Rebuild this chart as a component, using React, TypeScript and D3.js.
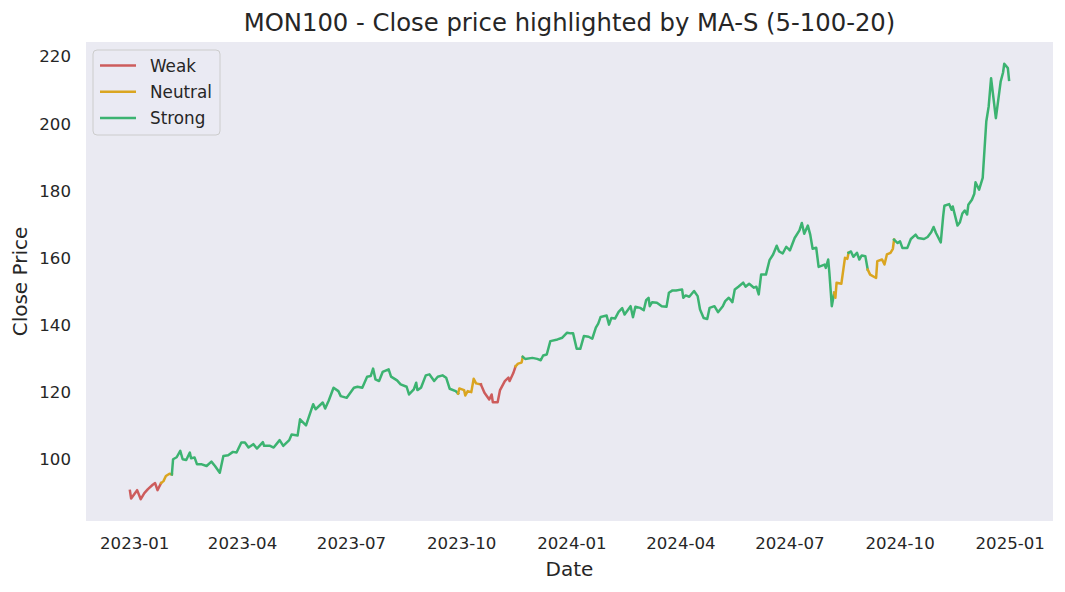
import { useEffect, useRef } from "react";
import * as d3 from "d3";

// Close prices
const dates = [
  "2022-12-28", "2022-12-29", "2023-01-03", "2023-01-06", "2023-01-09", "2023-01-12", "2023-01-16", "2023-01-18", "2023-01-20", "2023-01-23",
  "2023-01-25", "2023-01-27", "2023-01-30", "2023-02-01", "2023-02-02", "2023-02-05", "2023-02-08", "2023-02-10", "2023-02-13", "2023-02-16",
  "2023-02-17", "2023-02-20", "2023-02-22", "2023-02-26", "2023-03-02", "2023-03-06", "2023-03-09", "2023-03-13", "2023-03-16", "2023-03-20",
  "2023-03-24", "2023-03-27", "2023-03-31", "2023-04-03", "2023-04-06", "2023-04-10", "2023-04-13", "2023-04-18", "2023-04-19", "2023-04-24",
  "2023-04-27", "2023-05-02", "2023-05-05", "2023-05-10", "2023-05-12", "2023-05-17", "2023-05-19", "2023-05-24", "2023-05-30", "2023-06-01",
  "2023-06-07", "2023-06-09", "2023-06-12", "2023-06-16", "2023-06-20", "2023-06-22", "2023-06-27", "2023-07-03", "2023-07-06", "2023-07-10",
  "2023-07-14", "2023-07-17", "2023-07-19", "2023-07-21", "2023-07-24", "2023-07-27", "2023-08-01", "2023-08-03", "2023-08-08", "2023-08-11",
  "2023-08-16", "2023-08-18", "2023-08-22", "2023-08-24", "2023-08-25", "2023-08-28", "2023-09-01", "2023-09-04", "2023-09-08", "2023-09-11",
  "2023-09-15", "2023-09-18", "2023-09-21", "2023-09-26", "2023-09-28", "2023-09-29", "2023-10-03", "2023-10-04", "2023-10-06", "2023-10-09",
  "2023-10-11", "2023-10-13", "2023-10-17", "2023-10-20", "2023-10-24", "2023-10-26", "2023-10-27", "2023-10-31", "2023-11-02", "2023-11-06",
  "2023-11-09", "2023-11-10", "2023-11-13", "2023-11-15", "2023-11-17", "2023-11-20", "2023-11-21", "2023-11-23", "2023-11-29", "2023-12-03",
  "2023-12-06", "2023-12-08", "2023-12-11", "2023-12-14", "2023-12-20", "2023-12-24", "2023-12-28", "2023-12-31", "2024-01-02", "2024-01-05",
  "2024-01-08", "2024-01-11", "2024-01-15", "2024-01-18", "2024-01-21", "2024-01-23", "2024-01-25", "2024-01-30", "2024-02-01", "2024-02-03",
  "2024-02-06", "2024-02-09", "2024-02-12", "2024-02-14", "2024-02-19", "2024-02-21", "2024-02-23", "2024-02-27", "2024-03-01", "2024-03-03",
  "2024-03-05", "2024-03-06", "2024-03-08", "2024-03-12", "2024-03-16", "2024-03-20", "2024-03-22", "2024-03-25", "2024-03-28", "2024-04-02",
  "2024-04-03", "2024-04-05", "2024-04-08", "2024-04-12", "2024-04-15", "2024-04-17", "2024-04-20", "2024-04-23", "2024-04-25", "2024-04-29",
  "2024-05-02", "2024-05-06", "2024-05-08", "2024-05-11", "2024-05-14", "2024-05-16", "2024-05-19", "2024-05-23", "2024-05-25", "2024-05-28",
  "2024-06-01", "2024-06-03", "2024-06-05", "2024-06-07", "2024-06-11", "2024-06-14", "2024-06-17", "2024-06-20", "2024-06-22", "2024-06-25",
  "2024-06-28", "2024-07-01", "2024-07-05", "2024-07-09", "2024-07-11", "2024-07-13", "2024-07-16", "2024-07-18", "2024-07-20", "2024-07-23",
  "2024-07-25", "2024-07-30", "2024-07-31", "2024-08-02", "2024-08-03", "2024-08-05", "2024-08-07", "2024-08-08", "2024-08-09", "2024-08-13",
  "2024-08-16", "2024-08-18", "2024-08-19", "2024-08-21", "2024-08-23", "2024-08-26", "2024-08-28", "2024-08-30", "2024-09-02", "2024-09-04",
  "2024-09-06", "2024-09-11", "2024-09-12", "2024-09-16", "2024-09-18", "2024-09-20", "2024-09-23", "2024-09-25", "2024-09-26", "2024-09-29",
  "2024-10-01", "2024-10-03", "2024-10-07", "2024-10-10", "2024-10-14", "2024-10-16", "2024-10-21", "2024-10-24", "2024-10-27", "2024-10-29",
  "2024-10-31", "2024-11-04", "2024-11-06", "2024-11-07", "2024-11-11", "2024-11-13", "2024-11-14", "2024-11-18", "2024-11-20", "2024-11-22",
  "2024-11-24", "2024-11-26", "2024-11-27", "2024-11-30", "2024-12-02", "2024-12-03", "2024-12-06", "2024-12-09", "2024-12-12", "2024-12-14",
  "2024-12-16", "2024-12-20", "2024-12-24", "2024-12-26", "2024-12-27", "2024-12-30", "2024-12-31",
];

const closes = [
  90.6, 88.3, 90.8, 88.1, 89.9, 91.1, 92.4, 92.9, 90.8, 92.9,
  93.5, 95.0, 95.7, 95.5, 100.0, 100.6, 102.5, 100.0, 99.8, 102.0,
  100.3, 100.5, 98.5, 98.5, 98.0, 99.3, 98.0, 96.0, 101.0, 101.2,
  102.2, 102.0, 105.0, 105.0, 103.5, 104.5, 103.2, 105.1, 104.0, 104.0,
  103.5, 105.7, 104.0, 105.7, 107.4, 107.1, 111.9, 110.1, 116.4, 114.9,
  116.9, 115.1, 117.5, 121.3, 120.3, 118.8, 118.3, 121.3, 121.6, 121.3,
  124.6, 124.8, 127.0, 123.8, 123.3, 126.0, 126.8, 124.6, 123.5, 122.3,
  121.6, 119.3, 120.8, 122.8, 120.6, 121.3, 125.0, 125.3, 123.3, 124.6,
  125.0, 124.3, 121.0, 120.3, 119.6, 121.1, 120.6, 119.0, 120.3, 120.0,
  124.0, 122.6, 122.3, 119.8, 117.8, 119.3, 117.0, 117.0, 120.6, 123.3,
  124.3, 123.3, 125.6, 127.7, 128.5, 128.8, 130.5, 129.9, 130.2, 129.9,
  129.5, 130.9, 131.2, 135.2, 135.7, 136.2, 137.7, 137.5, 137.5, 132.9,
  132.9, 136.7, 136.5, 135.9, 139.2, 140.4, 142.4, 142.8, 140.1, 142.1,
  141.9, 143.9, 145.0, 143.1, 145.6, 142.3, 145.4, 145.1, 144.4, 147.4,
  148.1, 145.6, 146.8, 146.6, 145.6, 145.4, 149.6, 150.3, 150.3, 150.6,
  148.1, 148.8, 148.4, 150.1, 148.6, 144.6, 142.1, 141.8, 145.1, 145.6,
  143.8, 145.6, 147.1, 148.1, 146.8, 150.6, 151.4, 152.6, 151.4, 152.3,
  151.1, 151.4, 149.1, 155.0, 155.0, 159.3, 161.0, 163.6, 161.9, 161.3,
  163.3, 162.2, 165.9, 168.2, 170.4, 167.2, 169.6, 166.9, 162.7, 163.0,
  157.3, 158.0, 157.0, 159.5, 155.5, 145.6, 149.6, 148.1, 152.6, 152.3,
  160.0, 159.7, 161.5, 161.9, 160.3, 161.5, 159.5, 160.7, 160.5, 156.5,
  155.0, 154.0, 159.0, 159.5, 158.0, 161.0, 161.5, 162.7, 165.4, 164.4,
  164.9, 162.9, 162.9, 165.6, 166.9, 165.9, 165.6, 166.2, 167.6, 169.2,
  167.4, 164.6, 172.4, 175.5, 176.0, 174.3, 175.3, 169.6, 170.6, 173.2,
  174.1, 172.9, 175.8, 177.3, 179.1, 182.5, 180.3, 183.8, 200.6, 205.1,
  213.5, 201.6, 212.5, 215.2, 217.8, 216.5, 213.0,
];

// MA-S regime, as consecutive runs of points: [label, number of points]
const regimeRuns: [string, number][] = [
  ["Weak", 10], ["Neutral", 4], ["Strong", 71], ["Neutral", 8], ["Weak", 11],
  ["Neutral", 3], ["Strong", 90], ["Neutral", 6], ["Strong", 7], ["Neutral", 9], ["Strong", 38],
];

const legendLabels = ["Weak", "Neutral", "Strong"];
const regimeColors: Record<string, string> = {
  Weak: "#cd5c5c",
  Neutral: "#daa520",
  Strong: "#3cb371",
};

const yTicks = [100, 120, 140, 160, 180, 200, 220];
const xTicks = [
  "2023-01-01", "2023-04-01", "2023-07-01", "2023-10-01", "2024-01-01",
  "2024-04-01", "2024-07-01", "2024-10-01", "2025-01-01",
];

const WIDTH = 1065;
const HEIGHT = 592;
const FONT = "'DejaVu Sans', sans-serif";
const INK = "#262626";

function RegimeChart() {
  const svgRef = useRef<SVGSVGElement>(null);

  useEffect(() => {
    if (!svgRef.current) return;
    const svg = d3.select(svgRef.current);
    svg.selectAll("*").remove();

    const left = 86;
    const right = 1053;
    const top = 42;
    const bottom = 521;

    const parse = d3.timeParse("%Y-%m-%d");
    const points = dates.map((d, i) => ({ date: parse(d) as Date, close: closes[i] }));

    // matplotlib-style 5% margins
    const [d0, d1] = d3.extent(points, (p) => p.date.getTime()) as [number, number];
    const dPad = (d1 - d0) * 0.05;
    const [v0, v1] = d3.extent(closes) as [number, number];
    const vPad = (v1 - v0) * 0.05;

    const x = d3.scaleTime().domain([new Date(d0 - dPad), new Date(d1 + dPad)]).range([left, right]);
    const y = d3.scaleLinear().domain([v0 - vPad, v1 + vPad]).range([bottom, top]);

    // Plot background
    svg.append("rect")
      .attr("x", left)
      .attr("y", top)
      .attr("width", right - left)
      .attr("height", bottom - top)
      .attr("fill", "#eaeaf2");

    // Y ticks
    yTicks.forEach((t) => {
      svg.append("text")
        .attr("x", left - 15)
        .attr("y", y(t))
        .attr("dy", "0.36em")
        .attr("text-anchor", "end")
        .attr("font-family", FONT)
        .attr("font-size", "16.6px")
        .attr("fill", INK)
        .text(t.toString());
    });

    // X ticks
    const fmt = d3.timeFormat("%Y-%m");
    xTicks.forEach((t) => {
      const dt = parse(t) as Date;
      svg.append("text")
        .attr("x", x(dt))
        .attr("y", bottom + 28)
        .attr("text-anchor", "middle")
        .attr("font-family", FONT)
        .attr("font-size", "16.6px")
        .attr("fill", INK)
        .text(fmt(dt));
    });

    // Regime-coloured line segments
    const line = d3.line<{ date: Date; close: number }>()
      .x((p) => x(p.date))
      .y((p) => y(p.close));

    let start = 0;
    regimeRuns.forEach(([label, count]) => {
      const from = Math.max(0, start - 1);
      const seg = points.slice(from, start + count);
      svg.append("path")
        .datum(seg)
        .attr("fill", "none")
        .attr("stroke", regimeColors[label])
        .attr("stroke-width", 2.5)
        .attr("stroke-linejoin", "round")
        .attr("stroke-linecap", "square")
        .attr("d", line);
      start += count;
    });

    // Title and axis labels
    svg.append("text")
      .attr("x", (left + right) / 2)
      .attr("y", 31)
      .attr("text-anchor", "middle")
      .attr("font-family", FONT)
      .attr("font-size", "24.3px")
      .attr("fill", INK)
      .text("MON100 - Close price highlighted by MA-S (5-100-20)");

    svg.append("text")
      .attr("x", (left + right) / 2)
      .attr("y", 576)
      .attr("text-anchor", "middle")
      .attr("font-family", FONT)
      .attr("font-size", "20px")
      .attr("fill", INK)
      .text("Date");

    svg.append("text")
      .attr("transform", `translate(27,${(top + bottom) / 2}) rotate(-90)`)
      .attr("text-anchor", "middle")
      .attr("font-family", FONT)
      .attr("font-size", "20px")
      .attr("fill", INK)
      .text("Close Price");

    // Legend
    const lg = svg.append("g").attr("transform", "translate(93,50)");
    lg.append("rect")
      .attr("width", 127)
      .attr("height", 85)
      .attr("rx", 4)
      .attr("fill", "#eaeaf2")
      .attr("fill-opacity", 0.8)
      .attr("stroke", "#cccccc")
      .attr("stroke-width", 1);
    legendLabels.forEach((label, i) => {
      const ly = 15.5 + i * 26.3;
      lg.append("line")
        .attr("x1", 7)
        .attr("x2", 43)
        .attr("y1", ly)
        .attr("y2", ly)
        .attr("stroke", regimeColors[label])
        .attr("stroke-width", 2.5);
      lg.append("text")
        .attr("x", 57)
        .attr("y", ly)
        .attr("dy", "0.36em")
        .attr("font-family", FONT)
        .attr("font-size", "16.8px")
        .attr("fill", INK)
        .text(label);
    });
  }, []);

  return (
    <svg
      ref={svgRef}
      width={WIDTH}
      height={HEIGHT}
      viewBox={`0 0 ${WIDTH} ${HEIGHT}`}
      style={{ position: "absolute", left: 0, top: 0, background: "#ffffff" }}
    />
  );
}

export default function App() {
  return <RegimeChart />;
}
